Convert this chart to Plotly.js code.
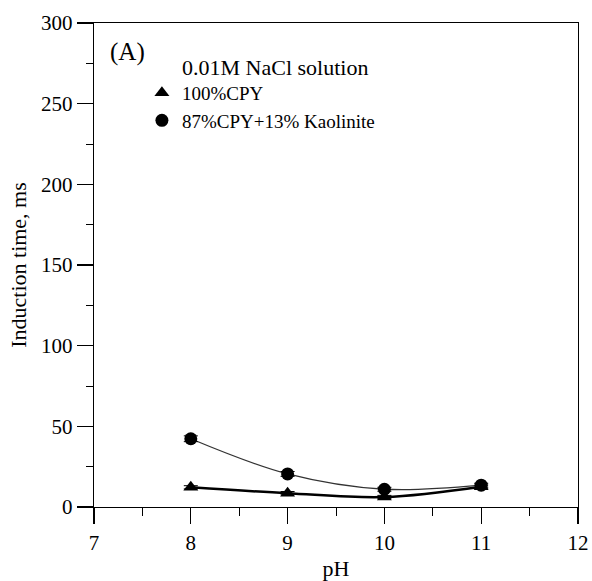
<!DOCTYPE html>
<html>
<head>
<meta charset="utf-8">
<script src="https://cdn.plot.ly/plotly-3.0.1.min.js"></script>
<style>
  html, body { margin: 0; padding: 0; background: #fff; }
  #chart { width: 592px; height: 581px; }
</style>
</head>
<body>
<div id="chart"></div>
<script>
// pH values tested
var phValues = [8, 9, 10, 11];
// Induction time (ms), 100% chalcopyrite
var cpyTime = [12.2, 8.6, 6.2, 12.6];
var cpyErr = [1.0, 1.0, 1.0, 1.0];
// Induction time (ms), 87% chalcopyrite + 13% kaolinite
var mixTime = [42.3, 20.5, 11.0, 13.5];
var mixErr = [1.8, 1.5, 1.2, 1.2];

var seriesNames = ['100%CPY', '87%CPY+13% Kaolinite'];

var serif = "'Liberation Serif', 'Times New Roman', Times, serif";

var traces = [
  // smooth trend curves
  {
    x: phValues, y: mixTime, mode: 'lines', type: 'scatter',
    line: {shape: 'spline', smoothing: 1, color: '#333', width: 1.3},
    showlegend: false, hoverinfo: 'skip'
  },
  {
    x: phValues, y: cpyTime, mode: 'lines', type: 'scatter',
    line: {shape: 'spline', smoothing: 1, color: '#000', width: 2.5},
    showlegend: false, hoverinfo: 'skip'
  },
  // measured points with error bars
  {
    x: phValues, y: cpyTime, mode: 'markers', type: 'scatter', name: seriesNames[0],
    marker: {symbol: 'triangle-up', size: 13, color: '#000'},
    error_y: {type: 'data', array: cpyErr, visible: true, color: '#000', thickness: 1, width: 7}
  },
  {
    x: phValues, y: mixTime, mode: 'markers', type: 'scatter', name: seriesNames[1],
    marker: {symbol: 'circle', size: 13, color: '#000'},
    error_y: {type: 'data', array: mixErr, visible: true, color: '#000', thickness: 1, width: 7}
  }
];

var layout = {
  width: 592, height: 581,
  margin: {l: 94, r: 14, t: 23, b: 74},
  paper_bgcolor: '#fff', plot_bgcolor: '#fff',
  font: {family: serif, color: '#000', size: 20},
  showlegend: true,
  legend: {
    x: 0.099, y: 0.895, xanchor: 'left', yanchor: 'top',
    bgcolor: 'rgba(0,0,0,0)', borderwidth: 0,
    font: {family: serif, size: 19, color: '#000'},
    itemwidth: 30, tracegroupgap: 0
  },
  xaxis: {
    range: [7, 12], dtick: 1, tick0: 7,
    showgrid: false, zeroline: false,
    showline: true, mirror: true, linecolor: '#000', linewidth: 1.3,
    ticks: 'outside', ticklen: 16, tickwidth: 1.3, tickcolor: '#000',
    minor: {dtick: 0.5, ticks: 'outside', ticklen: 8, tickwidth: 1, tickcolor: '#000', showgrid: false},
    tickfont: {family: serif, size: 21, color: '#000'},
    title: {text: 'pH', font: {family: serif, size: 22, color: '#000'}, standoff: 7}
  },
  yaxis: {
    range: [0, 300], dtick: 50, tick0: 0,
    showgrid: false, zeroline: false,
    showline: true, mirror: true, linecolor: '#000', linewidth: 1.3,
    ticks: 'outside', ticklen: 16, tickwidth: 1.3, tickcolor: '#000',
    minor: {dtick: 25, ticks: 'outside', ticklen: 7, tickwidth: 1, tickcolor: '#000', showgrid: false},
    tickfont: {family: serif, size: 21, color: '#000'},
    title: {text: 'Induction time, ms', font: {family: serif, size: 22, color: '#000'}, standoff: 8}
  },
  annotations: [
    {
      text: '(A)', xref: 'paper', yref: 'paper', x: 0.029, y: 0.94,
      xanchor: 'left', yanchor: 'middle', showarrow: false,
      font: {family: serif, size: 25, color: '#000'}
    },
    {
      text: '0.01M NaCl solution', xref: 'paper', yref: 'paper', x: 0.178, y: 0.909,
      xanchor: 'left', yanchor: 'middle', showarrow: false,
      font: {family: serif, size: 22, color: '#000'}
    }
  ]
};

Plotly.newPlot('chart', traces, layout, {displayModeBar: false, staticPlot: true});
</script>
</body>
</html>
